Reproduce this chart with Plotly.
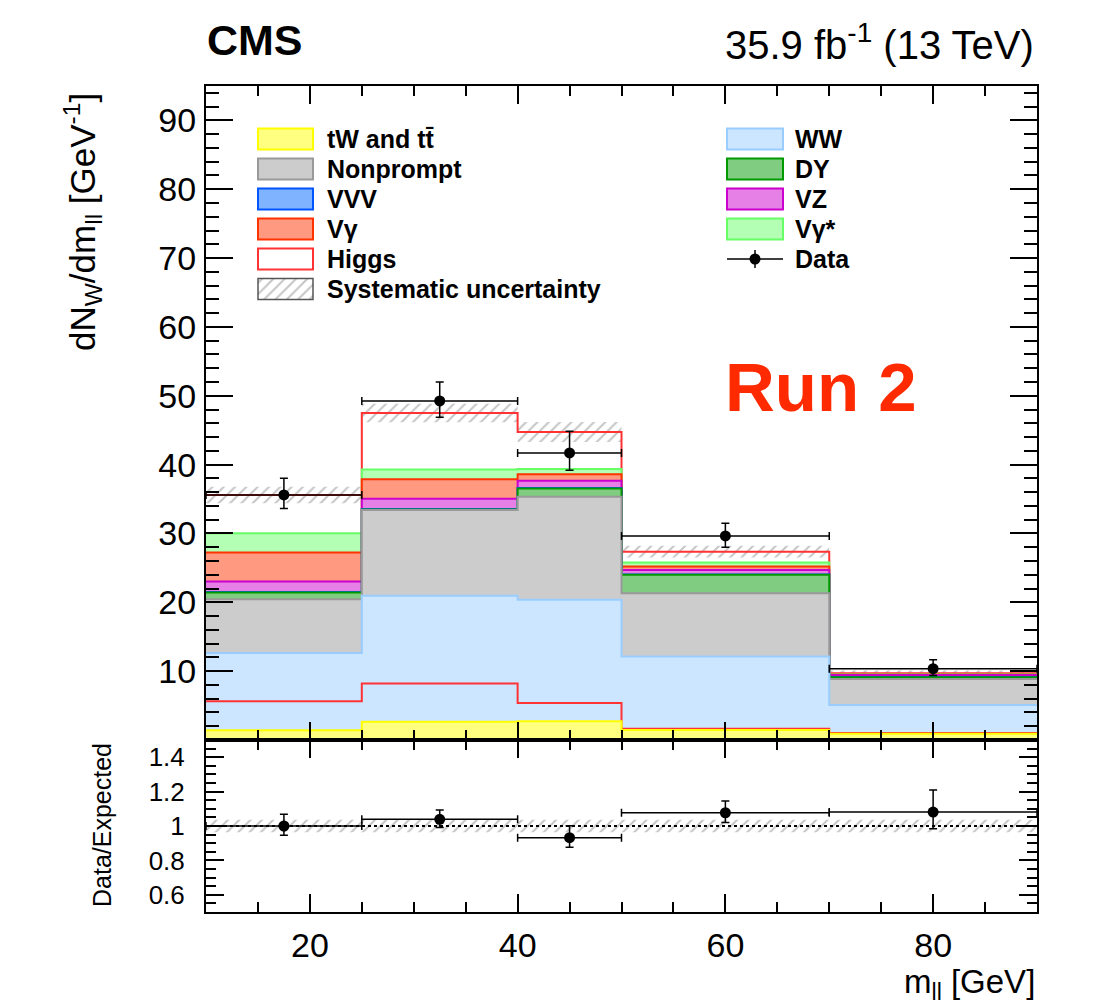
import numpy as np
import plotly.graph_objects as go

# ---------------- data ----------------
bin_edges = [10, 25, 40, 50, 70, 90]

tw_tt      = [1.42, 2.64, 2.72, 1.45, 0.90]
higgs_low  = [4.20, 5.55, 2.67, 0.20, 0.10]
ww         = [7.02, 12.75, 14.97, 10.49, 4.10]
nonprompt  = [7.82, 12.46, 14.97, 9.19, 3.75]
dy         = [0.96, 0.10, 1.22, 2.66, 0.25]
vvv        = [0.08, 0.05, 0.07, 0.06, 0.05]
vz         = [1.51, 1.49, 1.03, 0.66, 0.30]
vgamma     = [4.21, 2.82, 0.97, 0.48, 0.07]
vgammastar = [2.81, 1.44, 0.73, 0.58, 0.06]
higgs_top  = [5.55, 8.20, 5.40, 1.59, 0.12]

syst_err = [1.20, 1.35, 1.45, 0.85, 0.40]

data        = [35.60, 49.25, 41.70, 29.64, 10.36]
data_err_up = [2.42, 2.75, 3.16, 1.84, 1.31]
data_err_dn = [1.98, 2.35, 2.50, 1.64, 1.00]

ratio        = [1.000, 1.039, 0.932, 1.077, 1.081]
ratio_err_up = [0.068, 0.054, 0.070, 0.068, 0.128]
ratio_err_dn = [0.054, 0.047, 0.056, 0.056, 0.097]
ratio_syst   = [0.037, 0.037, 0.037, 0.037, 0.037]

main_yticks = [10, 20, 30, 40, 50, 60, 70, 80, 90]
ratio_yticks = [0.6, 0.8, 1.0, 1.2, 1.4]
ratio_yticktext = ["0.6", "0.8", "1", "1.2", "1.4"]
xticks = [20, 40, 60, 80]

# ---------------- styles ----------------
FONT = "Liberation Sans, Arial, Helvetica, sans-serif"
C_TW = ("#ffff80", "#ffff00")
C_NP = ("#cccccc", "#999999")
C_VVV = ("#80b3ff", "#0055ff")
C_VG = ("#ff9980", "#ff3300")
C_HIG = (None, "#ff3333")
C_WW = ("#cce6ff", "#99ccff")
C_DY = ("#80cc80", "#009900")
C_VZ = ("#e680e6", "#cc00cc")
C_VGS = ("#b3ffb3", "#66ff66")
HATCH = "#8a8a8a"

# stack, bottom -> top
stack = [
    ("tW and tt", tw_tt, C_TW),
    ("Higgs", higgs_low, C_HIG),
    ("WW", ww, C_WW),
    ("Nonprompt", nonprompt, C_NP),
    ("DY", dy, C_DY),
    ("VVV", vvv, C_VVV),
    ("VZ", vz, C_VZ),
    ("Vgamma", vgamma, C_VG),
    ("Vgamma*", vgammastar, C_VGS),
    ("Higgs", higgs_top, C_HIG),
]

edges = np.array(bin_edges, dtype=float)
centers = 0.5 * (edges[1:] + edges[:-1])
widths = edges[1:] - edges[:-1]

cum = np.cumsum(np.array([s[1] for s in stack]), axis=0)
total = cum[-1]

fig = go.Figure()

# draw cumulative histograms from the top one down (ROOT THStack style)
for i in reversed(range(len(stack))):
    name, vals, (fillc, linec) = stack[i]
    y = list(cum[i]) + [cum[i][-1]]
    if fillc is None:
        fig.add_trace(go.Scatter(x=edges, y=y, mode="lines", line=dict(shape="hv", color=linec, width=2),
                                 showlegend=False, hoverinfo="skip", xaxis="x", yaxis="y"))
    else:
        fig.add_trace(go.Scatter(x=edges, y=y, mode="lines", line=dict(shape="hv", color=linec, width=2),
                                 fill="tozeroy", fillcolor=fillc,
                                 showlegend=False, hoverinfo="skip", xaxis="x", yaxis="y"))

# systematic band (main)
syst = np.array(syst_err)
fig.add_trace(go.Bar(x=centers, width=widths, base=total - syst, y=2 * syst,
                     marker=dict(color="rgba(0,0,0,0)", line=dict(width=0),
                                 pattern=dict(shape="/", fgcolor=HATCH, bgcolor="rgba(0,0,0,0)",
                                              size=8, solidity=0.25)),
                     showlegend=False, hoverinfo="skip", xaxis="x", yaxis="y"))

# data (main)
fig.add_trace(go.Scatter(x=centers, y=data, mode="markers",
                         marker=dict(color="black", size=11),
                         error_y=dict(type="data", symmetric=False, array=data_err_up, arrayminus=data_err_dn,
                                      color="black", thickness=1.5, width=4),
                         error_x=dict(type="data", array=widths / 2, color="black", thickness=1.5, width=4),
                         showlegend=False, xaxis="x", yaxis="y"))

# ratio panel
rsyst = np.array(ratio_syst)
fig.add_trace(go.Bar(x=centers, width=widths, base=1 - rsyst, y=2 * rsyst,
                     marker=dict(color="rgba(0,0,0,0)", line=dict(width=0),
                                 pattern=dict(shape="/", fgcolor=HATCH, bgcolor="rgba(0,0,0,0)",
                                              size=8, solidity=0.25)),
                     showlegend=False, hoverinfo="skip", xaxis="x2", yaxis="y2"))
fig.add_trace(go.Scatter(x=[edges[0], edges[-1]], y=[1, 1], mode="lines",
                         line=dict(color="black", width=2, dash="dot"),
                         showlegend=False, hoverinfo="skip", xaxis="x2", yaxis="y2"))
fig.add_trace(go.Scatter(x=centers, y=ratio, mode="markers",
                         marker=dict(color="black", size=11),
                         error_y=dict(type="data", symmetric=False, array=ratio_err_up, arrayminus=ratio_err_dn,
                                      color="black", thickness=1.5, width=4),
                         error_x=dict(type="data", array=widths / 2, color="black", thickness=1.5, width=4),
                         showlegend=False, xaxis="x2", yaxis="y2"))

# ---------------- geometry helpers (page pixel -> paper) ----------------
OFF = 8                      # default body margin of the html page
FIG_W, FIG_H = 1090, 998
L, R, T, B = 206, 1037, 86, 912   # plot-area edges in page pixels
W_PA, H_PA = R - L, B - T
def fx(p):
    return (p - L) / W_PA
def fy(p):
    return (B - p) / H_PA

split = fy(740)

# ---------------- legend (hand drawn, ROOT style) ----------------
shapes = []
annotations = []
rows = [139, 169, 199, 229, 259, 289]
col1_box = (258, 313)
col2_box = (727, 783)
col1_txt = 325
col2_txt = 793
bh = 10.5
LEG_SIZE = 25

col1 = [("tW and tt\u0304", C_TW), ("Nonprompt", C_NP), ("VVV", C_VVV), ("V\u03b3", C_VG), ("Higgs", C_HIG)]
col2 = [("WW", C_WW), ("DY", C_DY), ("VZ", C_VZ), ("V\u03b3*", C_VGS)]

def box(xr, yc, fillc, linec):
    shapes.append(dict(type="rect", xref="paper", yref="paper",
                       x0=fx(xr[0]), x1=fx(xr[1]), y0=fy(yc + bh), y1=fy(yc - bh),
                       fillcolor=fillc if fillc else "white", line=dict(color=linec, width=2)))

def label(xp, yc, text):
    annotations.append(dict(x=fx(xp), y=fy(yc), xref="paper", yref="paper", text="<b>%s</b>" % text,
                            showarrow=False, xanchor="left", yanchor="middle",
                            font=dict(family=FONT, size=LEG_SIZE, color="black")))

for (txt, (fc, lc)), yc in zip(col1, rows):
    box(col1_box, yc, fc, lc)
    label(col1_txt, yc, txt)
for (txt, (fc, lc)), yc in zip(col2, rows):
    box(col2_box, yc, fc, lc)
    label(col2_txt, yc, txt)
label(col1_txt, rows[5], "Systematic uncertainty")
label(col2_txt, rows[4], "Data")

# hatched legend box (on an invisible paper-like axis)
fig.add_trace(go.Bar(x=[fx((col1_box[0] + col1_box[1]) / 2)], width=[fx(col1_box[1]) - fx(col1_box[0])],
                     base=[fy(rows[5] + bh)], y=[fy(rows[5] - bh) - fy(rows[5] + bh)],
                     marker=dict(color="rgba(0,0,0,0)", line=dict(width=1.5, color="#555555"),
                                 pattern=dict(shape="/", fgcolor=HATCH, bgcolor="rgba(0,0,0,0)",
                                              size=8, solidity=0.25)),
                     showlegend=False, hoverinfo="skip", xaxis="x3", yaxis="y3"))
# data legend marker
fig.add_trace(go.Scatter(x=[fx((col2_box[0] + col2_box[1]) / 2)], y=[fy(rows[4])], mode="markers",
                         marker=dict(color="black", size=11),
                         error_x=dict(type="data", array=[fx(col2_box[1]) - fx((col2_box[0] + col2_box[1]) / 2)],
                                      color="black", thickness=1.5, width=0),
                         error_y=dict(type="data", array=[9 / H_PA], color="black", thickness=1.5, width=0),
                         showlegend=False, hoverinfo="skip", xaxis="x3", yaxis="y3"))

# ---------------- texts ----------------
def ann(px, py, text, size, xanchor="center", bold=False, color="black", angle=0):
    annotations.append(dict(x=fx(px), y=fy(py), xref="paper", yref="paper",
                            text=("<b>%s</b>" % text) if bold else text, showarrow=False,
                            xanchor=xanchor, yanchor="middle", textangle=angle,
                            font=dict(family=FONT, size=size, color=color)))

ann(205, 40, "CMS", 43, xanchor="left", bold=True)
ann(1036, 42, "35.9 fb<sup>-1</sup> (13 TeV)", 40, xanchor="right")
ann(821, 387, "Run 2", 69, bold=True, color="#ff2a00")
ann(82, 222, "dN<sub>W</sub>/dm<sub>ll</sub> [GeV<sup>-1</sup>]", 35, angle=-90)
ann(102, 825, "Data/Expected", 25, angle=-90)
ann(1037, 984, "m<sub>ll</sub> [GeV]", 33, xanchor="right")

# ---------------- axes ----------------
axis_common = dict(showline=True, linecolor="black", linewidth=2, mirror="allticks",
                   ticks="inside", tickcolor="black", tickwidth=2, showgrid=False, zeroline=False)
TICKFONT = dict(family=FONT, size=34, color="black")

fig.update_layout(
    width=FIG_W, height=FIG_H,
    margin=dict(l=L - OFF, r=FIG_W - (R - OFF), t=T - OFF, b=FIG_H - (B - OFF)),
    paper_bgcolor="white", plot_bgcolor="rgba(0,0,0,0)",
    barmode="overlay", showlegend=False,
    shapes=shapes, annotations=annotations,
    xaxis=dict(domain=[0, 1], range=[edges[0], edges[-1]], anchor="y", showticklabels=False,
               tickmode="array", tickvals=xticks, ticklen=18,
               minor=dict(ticks="inside", dtick=5, tick0=0, ticklen=10, tickwidth=2, tickcolor="black"),
               **axis_common),
    yaxis=dict(domain=[split, 1], range=[0, 95], anchor="x",
               tickmode="array", tickvals=main_yticks, ticklen=27, ticklabelstandoff=1,
               tickfont=TICKFONT,
               minor=dict(ticks="inside", dtick=2, tick0=0, ticklen=13, tickwidth=2, tickcolor="black"),
               **axis_common),
    xaxis2=dict(domain=[0, 1], range=[edges[0], edges[-1]], anchor="y2",
                tickmode="array", tickvals=xticks, ticklen=18, ticklabelstandoff=2,
                tickfont=TICKFONT,
                minor=dict(ticks="inside", dtick=5, tick0=0, ticklen=10, tickwidth=2, tickcolor="black"),
                **axis_common),
    yaxis2=dict(domain=[0, split], range=[0.5, 1.5], anchor="x2",
                tickmode="array", tickvals=ratio_yticks, ticktext=ratio_yticktext, ticklen=18,
                ticklabelstandoff=14,
                tickfont=dict(family=FONT, size=26, color="black"),
                minor=dict(ticks="inside", dtick=0.05, tick0=0.5, ticklen=10, tickwidth=2, tickcolor="black"),
                **axis_common),
    xaxis3=dict(domain=[0, 1], range=[0, 1], anchor="y3", visible=False, fixedrange=True),
    yaxis3=dict(domain=[0, 1], range=[0, 1], anchor="x3", visible=False, fixedrange=True),
)

fig.write_html("out.html")
